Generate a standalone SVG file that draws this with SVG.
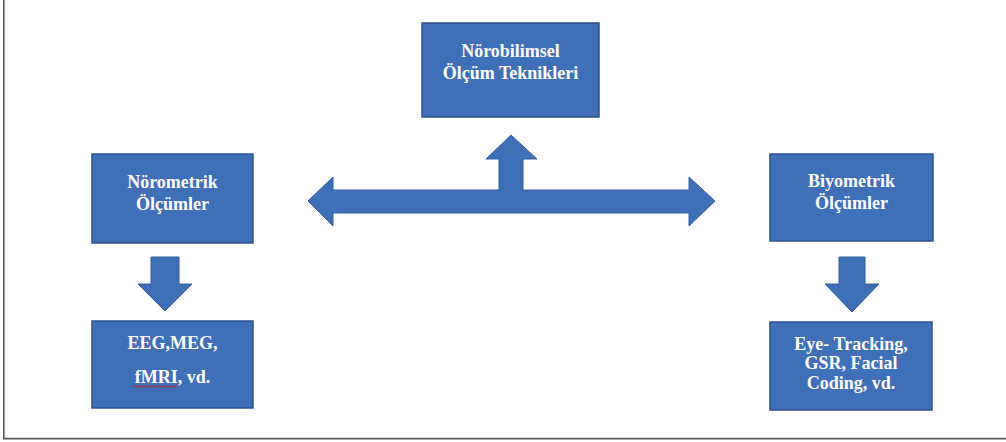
<svg xmlns="http://www.w3.org/2000/svg" width="1006" height="442" viewBox="0 0 1006 442">
<style>
.box{fill:#3F6FB7;stroke:#2F528F;stroke-width:1.5}
.arr{fill:#3F6FB7;stroke:#35609F;stroke-width:1}
text{font-family:"Liberation Serif","Times New Roman",serif;font-weight:bold;font-size:18px;fill:#FFFFFF;text-anchor:middle}
.frame{stroke:#5A5A5A;stroke-width:1.6;fill:none}
</style>
<rect width="1006" height="442" fill="#FFFFFF"/>
<path class="frame" d="M3.8 0 V438.6 H1006"/>
<g id="connectors">
<path class="arr" d="M308 201 L333 177 L333 190 L499 190 L499 159 L486 159 L511 135 L537 159 L523 159 L523 190 L689 190 L689 177 L715 201 L689 226 L689 213 L333 213 L333 226 Z"/>
<path class="arr" d="M151 257 L179 257 L179 284 L192 284 L165 311 L138 284 L151 284 Z"/>
<path class="arr" d="M839 257 L865 257 L865 284 L879 284 L852 312 L825 284 L839 284 Z"/>
</g>
<g id="node-top">
<rect class="box" x="422" y="23" width="177" height="94"/>
<text x="510.5" y="57">Nörobilimsel</text>
<text x="510.5" y="79">Ölçüm Teknikleri</text>
</g>
<g id="node-norometrik">
<rect class="box" x="92" y="154" width="161" height="89"/>
<text x="172.5" y="188">Nörometrik</text>
<text x="172.5" y="210">Ölçümler</text>
</g>
<g id="node-biyometrik">
<rect class="box" x="770" y="154" width="163" height="87"/>
<text x="851.5" y="187">Biyometrik</text>
<text x="851.5" y="209">Ölçümler</text>
</g>
<g id="node-eeg">
<rect class="box" x="92" y="321" width="161" height="87"/>
<text x="172.5" y="349">EEG,MEG,</text>
<text x="172.5" y="383">fMRI, vd.</text>
<path d="M133 386.5 q1.5 -1.5 3 0 t3 0 t3 0 t3 0 t3 0 t3 0 t3 0 t3 0 t3 0 t3 0 t3 0 t3 0 t3 0 t3 0 t3 0" fill="none" stroke="#D02020" stroke-width="1"/>
</g>
<g id="node-eye">
<rect class="box" x="770" y="322" width="162" height="88"/>
<text x="851" y="350">Eye- Tracking,</text>
<text x="851" y="369">GSR, Facial</text>
<text x="851" y="389">Coding, vd.</text>
</g>
</svg>
